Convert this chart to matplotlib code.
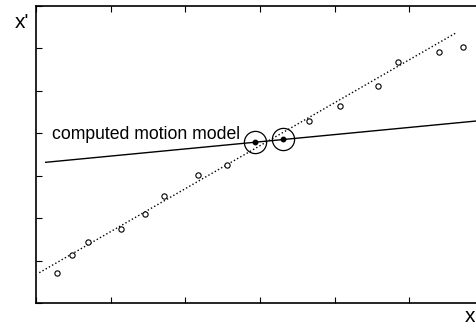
import matplotlib
matplotlib.use("Agg")
import matplotlib.pyplot as plt

plt.rcParams['font.family'] = ['Liberation Sans', 'DejaVu Sans']

# observed feature positions (open circles)
obs_x = [0.285, 0.478, 0.696, 1.142, 1.456, 1.710, 2.174, 2.554,
         3.652, 4.067, 4.580, 4.852, 5.401, 5.714]
obs_y = [0.70, 1.14, 1.43, 1.74, 2.10, 2.53, 3.01, 3.25,
         4.28, 4.64, 5.12, 5.67, 5.92, 6.03]

# points used for the computed model (filled, circled)
sel_x = [2.933, 3.308]
sel_y = [3.79, 3.86]

# true trend (dotted) and computed motion model (solid)
true_x = [0.044, 5.638]
true_y = [0.714, 6.38]
model_x = [0.13, 5.90]
model_y = [3.316, 4.29]

fig = plt.figure(figsize=(4.76, 3.24), dpi=100)
ax = fig.add_axes([36/476, 21/324, 448/476, 297/324])

ax.plot(true_x, true_y, 'k:', lw=1)
ax.plot(model_x, model_y, 'k-', lw=1)
ax.plot(obs_x, obs_y, 'o', mfc='white', mec='k', ms=3.8, mew=0.8, ls='none')
ax.plot(sel_x, sel_y, 'o', mfc='k', mec='k', ms=3.2, ls='none')
ax.plot(sel_x, sel_y, 'o', mfc='none', mec='k', ms=16, mew=0.9, ls='none')

ax.text(0.21, 3.98, 'computed motion model', fontsize=12.7, ha='left', va='center')

ax.set_xlim(0, 6)
ax.set_ylim(0, 7)
ax.set_xticks(range(0, 7))
ax.set_yticks(range(0, 8))
ax.set_xticklabels([])
ax.set_yticklabels([])
ax.tick_params(direction='in', length=4, width=0.8, top=True, right=False)
for s in ax.spines.values():
    s.set_linewidth(1.2)
ax.spines['right'].set_visible(False)

fig.text(15/476, 1 - 22/324, "x'", fontsize=15, ha='left', va='center')
fig.text(465/476, 1 - 316/324, "x", fontsize=15, ha='left', va='center')

fig.savefig("out.png", dpi=100)
